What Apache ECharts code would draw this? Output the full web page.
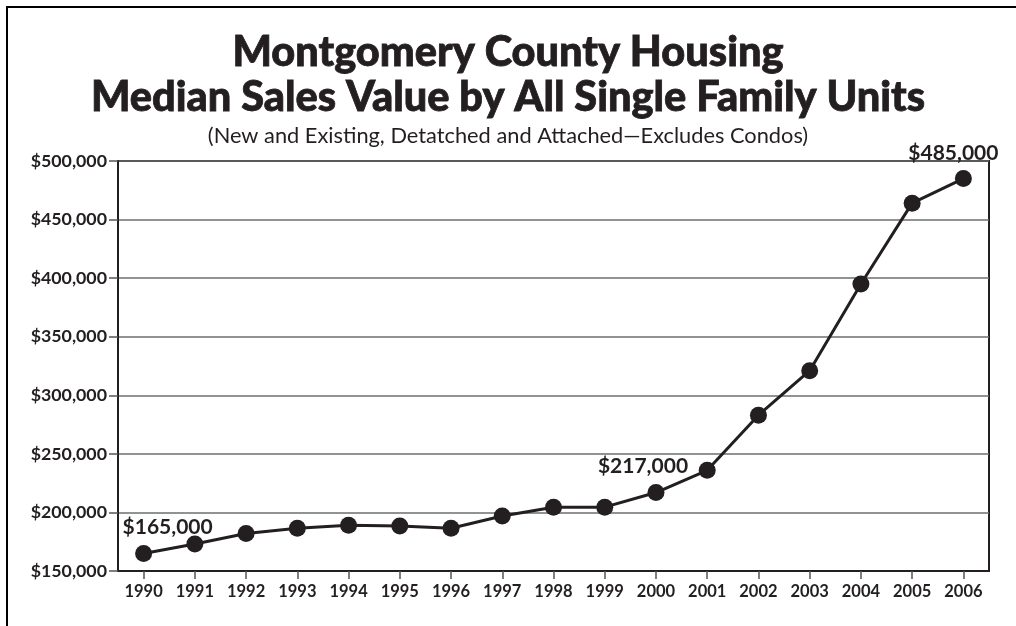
<!DOCTYPE html>
<html>
<head>
<meta charset="utf-8">
<title>Montgomery County Housing</title>
<script src="https://cdn.jsdelivr.net/npm/echarts@6/dist/echarts.min.js"></script>
<style>
  html, body { margin: 0; padding: 0; background: #fff; }
  #chart { width: 1016px; height: 626px; }
</style>
</head>
<body>
<div id="chart"></div>
<script>
const years = ['1990', '1991', '1992', '1993', '1994', '1995', '1996', '1997', '1998',
  '1999', '2000', '2001', '2002', '2003', '2004', '2005', '2006'];
const medianValues = [165000, 173000, 182000, 186500, 189000, 188500, 186500, 197000, 204500,
  204500, 217000, 236000, 283000, 321000, 395000, 464000, 485000];
// years whose value is printed next to the point, with label nudges
const labelledYears = { '1990': [24, -2], '2000': [-13, -2], '2006': [-10, -1] };

const ink = '#231f20';
const fontFamily = 'Lato, "Open Sans", sans-serif';

const chart = echarts.init(document.getElementById('chart'));

const seriesData = medianValues.map((v, i) => {
  const offset = labelledYears[years[i]];
  if (!offset) return v;
  return {
    value: v,
    label: {
      show: true,
      position: 'top',
      offset: offset,
      formatter: (p) => '$' + p.value.toLocaleString('en-US'),
      color: ink,
      fontFamily: fontFamily,
      fontWeight: 'bold',
      fontSize: 21,
    },
  };
});

chart.setOption({
  animation: false,
  backgroundColor: '#fff',
  title: [
    {
      text: 'Montgomery County Housing\nMedian Sales Value by All Single Family Units',
      left: 'center',
      top: 25,
      textStyle: {
        color: ink,
        fontFamily: fontFamily,
        fontWeight: 900,
        fontSize: 41.5,
        lineHeight: 45,
        align: 'center',
        textBorderColor: ink,
        textBorderWidth: 0.8,
      },
    },
    {
      text: '(New and Existing, Detatched and Attached\u2014Excludes Condos)',
      left: 'center',
      top: 120,
      textStyle: {
        color: ink,
        fontFamily: fontFamily,
        fontWeight: 'normal',
        fontSize: 21.8,
      },
    },
  ],
  grid: {
    left: 118,
    right: 27,
    top: 161,
    bottom: 55,
    show: true,
    borderColor: ink,
    borderWidth: 2,
    containLabel: false,
  },
  xAxis: {
    type: 'category',
    data: years,
    boundaryGap: true,
    axisLine: { show: true, lineStyle: { color: ink, width: 2 } },
    axisTick: { show: true, alignWithLabel: true, length: 8, lineStyle: { color: '#555', width: 1.5 } },
    axisLabel: {
      color: ink,
      fontFamily: fontFamily,
      fontWeight: 'bold',
      fontSize: 16.5,
      margin: 12,
    },
  },
  yAxis: {
    type: 'value',
    min: 150000,
    max: 500000,
    interval: 50000,
    axisLine: { show: true, lineStyle: { color: ink, width: 2 } },
    axisTick: { show: true, length: 9, lineStyle: { color: '#555', width: 1.5 } },
    axisLabel: {
      color: ink,
      fontFamily: fontFamily,
      fontWeight: 'bold',
      fontSize: 17.8,
      margin: 11,
      formatter: (v) => '$' + v.toLocaleString('en-US'),
    },
    splitLine: { show: true, lineStyle: { color: '#6d6e71', width: 1.5 } },
  },
  series: [
    {
      type: 'line',
      data: seriesData,
      symbol: 'circle',
      symbolSize: 17,
      itemStyle: { color: ink },
      lineStyle: { color: ink, width: 3 },
      z: 5,
    },
  ],
  graphic: [
    {
      type: 'polyline',
      shape: { points: [[7, 626], [7, 7], [1016, 7]] },
      style: { stroke: '#000', lineWidth: 2, fill: null },
      silent: true,
    },
  ],
});
</script>
</body>
</html>
